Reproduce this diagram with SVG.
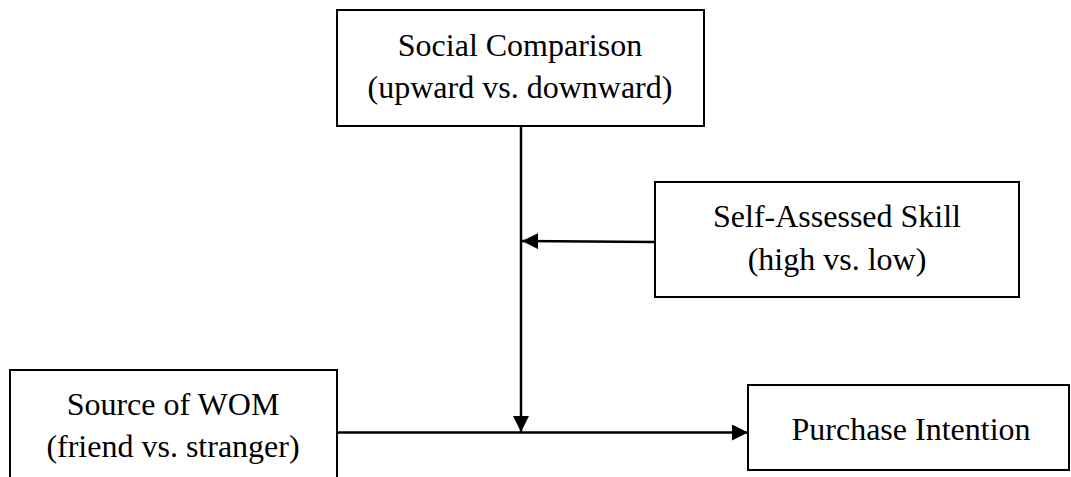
<svg xmlns="http://www.w3.org/2000/svg" width="1071" height="477" viewBox="0 0 1071 477">
<style>
.box{fill:#fff;stroke:#000;stroke-width:2}
.t{font-family:"Liberation Serif","Times New Roman",serif;font-size:32px;fill:#000;text-anchor:middle}
.c{stroke:#000;stroke-width:2.5;fill:none}
</style>
<defs>
<marker id="ah" markerUnits="userSpaceOnUse" markerWidth="16" markerHeight="16" viewBox="0 0 16 16" refX="16" refY="8" orient="auto">
<path d="M0,0 L16,8 L0,16 Z" fill="#000"/>
</marker>
</defs>
<rect width="1071" height="477" fill="#fff"/>
<g id="social">
<rect class="box" x="337" y="10" width="367" height="116"/>
<text class="t" x="520" y="56">Social Comparison</text>
<text class="t" x="520" y="98">(upward vs. downward)</text>
</g>
<g id="skill">
<rect class="box" x="655" y="182" width="364" height="115"/>
<text class="t" x="837" y="227">Self-Assessed Skill</text>
<text class="t" x="837" y="270">(high vs. low)</text>
</g>
<g id="source">
<rect class="box" x="10" y="370" width="327" height="120"/>
<text class="t" x="173" y="415">Source of WOM</text>
<text class="t" x="173" y="457">(friend vs. stranger)</text>
</g>
<g id="purchase">
<rect class="box" x="748" y="385" width="321" height="85"/>
<text class="t" x="911" y="440">Purchase Intention</text>
</g>
<g id="connectors">
<line class="c" x1="521" y1="126" x2="521" y2="432" marker-end="url(#ah)"/>
<line class="c" x1="337" y1="432.5" x2="748" y2="432.5" marker-end="url(#ah)"/>
<line class="c" x1="655" y1="242" x2="522" y2="241" marker-end="url(#ah)"/>
</g>
</svg>
